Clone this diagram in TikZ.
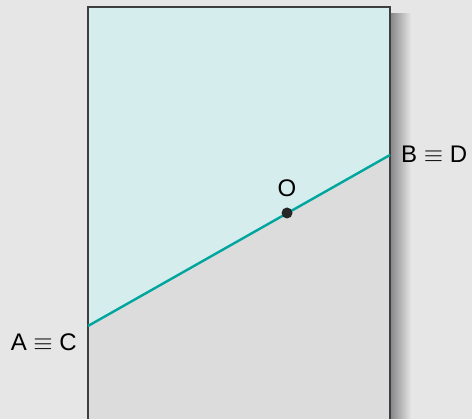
\documentclass[tikz,border=0pt]{standalone}
\usepackage{fontspec}
\setmainfont{Liberation Sans}
\usepackage{xcolor}

\definecolor{bgcol}{HTML}{E6E6E7}
\definecolor{topcol}{HTML}{D5EDED}
\definecolor{lowcol}{HTML}{DCDCDD}
\definecolor{edgecol}{HTML}{3E3E40}
\definecolor{shadowcol}{HTML}{8A8A8C}
\definecolor{linecol}{HTML}{00A59E}

\tikzset{
  lbl/.style={font=\fontsize{24}{28}\selectfont, inner sep=0pt},
  dot/.style={circle, fill=black!85, inner sep=0pt, minimum size=11pt}
}

\begin{document}
\begin{tikzpicture}[x=1pt,y=-1pt]
    \useasboundingbox[fill=bgcol] (0,0) rectangle (472,419);

    % shadow to the right of the sheet
    \shade[left color=shadowcol, right color=bgcol] (391,14) rectangle (411,419);

    \coordinate (A) at (88,326);
    \coordinate (B) at (390,155);

    \fill[topcol] (88,7) -- (390,7) -- (B) -- (A) -- cycle;
    \fill[lowcol] (A) -- (B) -- (390,419) -- (88,419) -- cycle;

    \draw[edgecol, line width=2.2pt] (88,421) -- (88,7) -- (390,7) -- (390,421);
    \draw[linecol, line width=2.4pt] (A) -- (B);

    \node[dot] (O) at (287,213) {};
    \node[lbl] (lO) at (287,188) {O};
    \node[lbl, anchor=west] (lB) at (401,154) {B $\equiv$ D};
    \node[lbl, anchor=east] (lA) at (77,342) {A $\equiv$ C};
\end{tikzpicture}
\end{document}
